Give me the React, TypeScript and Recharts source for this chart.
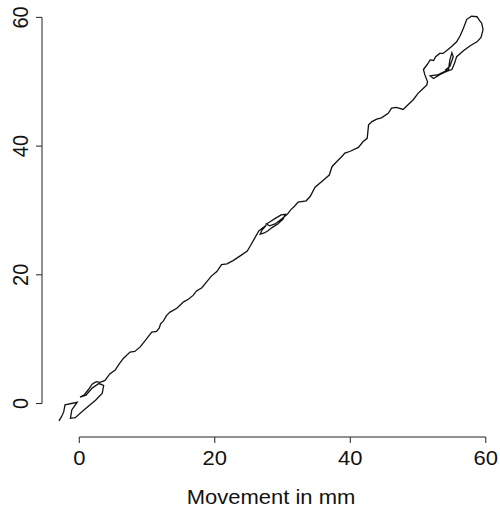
import { LineChart, Line, XAxis, YAxis, ReferenceLine } from "recharts";

// trace, [x, y] in mm
const startLoop = [
  [-3.0, -2.7], [-2.6, -2.0], [-2.3, -1.3], [-2.1, -0.2], [-0.3, 0.2], [-1.1, -1.0],
  [-1.3, -2.3], [-0.6, -2.2], [0.9, -0.8], [2.4, 0.5], [3.4, 1.6], [3.6, 2.8],
  [2.9, 3.1], [1.9, 2.4], [1.0, 1.3], [0.1, 1.0], [0.7, 1.3], [1.3, 2.1],
  [1.9, 3.0], [2.5, 3.4], [3.1, 3.3], [3.8, 3.6],
];

const lowerRun = [
  [4.5, 4.6], [5.3, 5.2], [5.8, 6.0], [6.5, 7.0], [7.5, 8.0], [8.2, 8.1], [9.0, 8.8],
  [9.9, 10.0], [10.7, 11.1], [11.4, 11.2], [11.8, 11.7], [12.0, 12.4], [12.4, 12.8],
  [12.9, 13.7], [13.4, 14.2], [14.4, 14.8], [14.9, 15.3], [15.4, 15.8], [16.1, 16.2],
  [16.8, 16.8], [17.3, 17.5], [18.1, 18.0], [18.8, 18.9], [19.5, 19.8], [20.3, 20.5],
  [21.0, 21.6], [21.8, 21.7], [22.7, 22.2], [23.7, 22.9], [24.8, 23.7],
];

const middleLoop = [
  [25.3, 24.6], [25.9, 25.7], [26.5, 26.8], [27.1, 27.3], [27.6, 27.7], [27.0, 27.0],
  [26.7, 26.3], [27.3, 26.5], [27.8, 26.8], [28.4, 27.3], [29.3, 27.9], [30.1, 28.7],
  [30.4, 29.4], [29.8, 29.3], [29.0, 28.8], [28.1, 28.2], [27.6, 27.9], [28.1, 27.6],
  [28.9, 27.9], [29.9, 28.7], [30.7, 29.4], [31.2, 30.1], [31.8, 30.7], [32.3, 31.3],
  [33.5, 31.5], [34.1, 32.2],
];

const upperRun = [
  [34.8, 33.6], [35.8, 34.5], [36.9, 35.5], [37.3, 36.8], [38.2, 37.8], [38.7, 38.3],
  [39.2, 38.9], [40.0, 39.2], [41.2, 39.8], [41.9, 40.7], [42.5, 41.2], [42.7, 43.3],
  [43.2, 43.8], [43.9, 44.2], [44.6, 44.4], [45.6, 45.1], [46.1, 45.9], [46.8, 46.0],
  [47.8, 45.7], [48.6, 46.5], [49.3, 47.2], [50.0, 48.2], [50.8, 49.0], [51.3, 49.5],
];

const endLoop = [
  [51.4, 50.0], [51.0, 51.1], [50.8, 51.9], [51.3, 52.6], [51.8, 53.4], [52.3, 53.3],
  [52.6, 53.9], [53.2, 54.4], [53.7, 54.4], [54.2, 54.8], [55.0, 55.5], [55.7, 56.2],
  [56.2, 57.1], [56.7, 58.3], [57.2, 59.7], [57.9, 60.2], [58.7, 60.1], [59.1, 59.5],
  [59.4, 59.1], [59.6, 58.1], [59.3, 56.9], [58.7, 56.2], [57.7, 55.6], [56.7, 54.8],
  [55.7, 53.9], [55.4, 52.9], [55.0, 51.9], [54.2, 51.6], [53.2, 51.1], [52.3, 50.5],
  [51.8, 50.9], [53.0, 51.1], [54.5, 51.9], [54.7, 53.4], [55.0, 54.5], [55.2, 53.9],
  [54.7, 52.4], [54.0, 51.8],
];

const xTicks = [0, 20, 40, 60];
const yTicks = [0, 20, 40, 60];
const xLabel = "Movement in mm";

const data = [...startLoop, ...lowerRun, ...middleLoop, ...upperRun, ...endLoop].map(
  ([x, y]) => ({ x, y })
);

const X_DOMAIN = [-5.5, 62.1];
const Y_DOMAIN = [-5.2, 62.7];
const FONT = "'Liberation Sans', Arial, Helvetica, sans-serif";
const INK = "#222";
// the reference is a little wider than tall, text included
const STRETCH = 1.1;

function XTick({ x, y, payload }: any) {
  return (
    <g transform={`translate(${x} ${y}) scale(${STRETCH} 1)`}>
      <text x={0} y={0} dy="0.71em" textAnchor="middle" fontFamily={FONT} fontSize={20} fill="#111">
        {payload.value}
      </text>
    </g>
  );
}

function YTick({ y, payload }: any) {
  return (
    <g transform={`translate(28 ${y}) scale(${STRETCH} 1) rotate(-90)`}>
      <text x={0} y={0} textAnchor="middle" fontFamily={FONT} fontSize={20} fill="#111">
        {payload.value}
      </text>
    </g>
  );
}

function XTitle({ viewBox }: any) {
  const cx = viewBox.x + viewBox.width / 2;
  return (
    <g transform={`translate(${cx} 504) scale(${STRETCH} 1)`}>
      <text x={0} y={0} textAnchor="middle" fontFamily={FONT} fontSize={20} fill="#111">
        {xLabel}
      </text>
    </g>
  );
}

export default function App() {
  return (
    <div style={{ position: "absolute", left: 0, top: 0, width: 500, height: 510, background: "#fff" }}>
      <LineChart width={500} height={510} data={data} margin={{ top: 0, right: 0, bottom: 0, left: 0 }}>
        <XAxis
          dataKey="x"
          type="number"
          domain={X_DOMAIN}
          ticks={xTicks}
          height={73}
          axisLine={false}
          tickLine={{ stroke: INK }}
          tickSize={6}
          tickMargin={8}
          tick={<XTick />}
          allowDataOverflow
          label={{ content: <XTitle /> }}
        />
        <YAxis
          dataKey="y"
          type="number"
          domain={Y_DOMAIN}
          ticks={yTicks}
          width={42}
          axisLine={false}
          tickLine={{ stroke: INK }}
          tickSize={6}
          tick={<YTick />}
          allowDataOverflow
        />
        <ReferenceLine
          segment={[{ x: 0, y: Y_DOMAIN[0] }, { x: 60, y: Y_DOMAIN[0] }]}
          stroke={INK}
          strokeWidth={1}
        />
        <ReferenceLine
          segment={[{ x: X_DOMAIN[0], y: 0 }, { x: X_DOMAIN[0], y: 60 }]}
          stroke={INK}
          strokeWidth={1}
        />
        <Line
          dataKey="y"
          type="linear"
          stroke="#111"
          strokeWidth={1.3}
          dot={false}
          isAnimationActive={false}
        />
      </LineChart>
    </div>
  );
}
